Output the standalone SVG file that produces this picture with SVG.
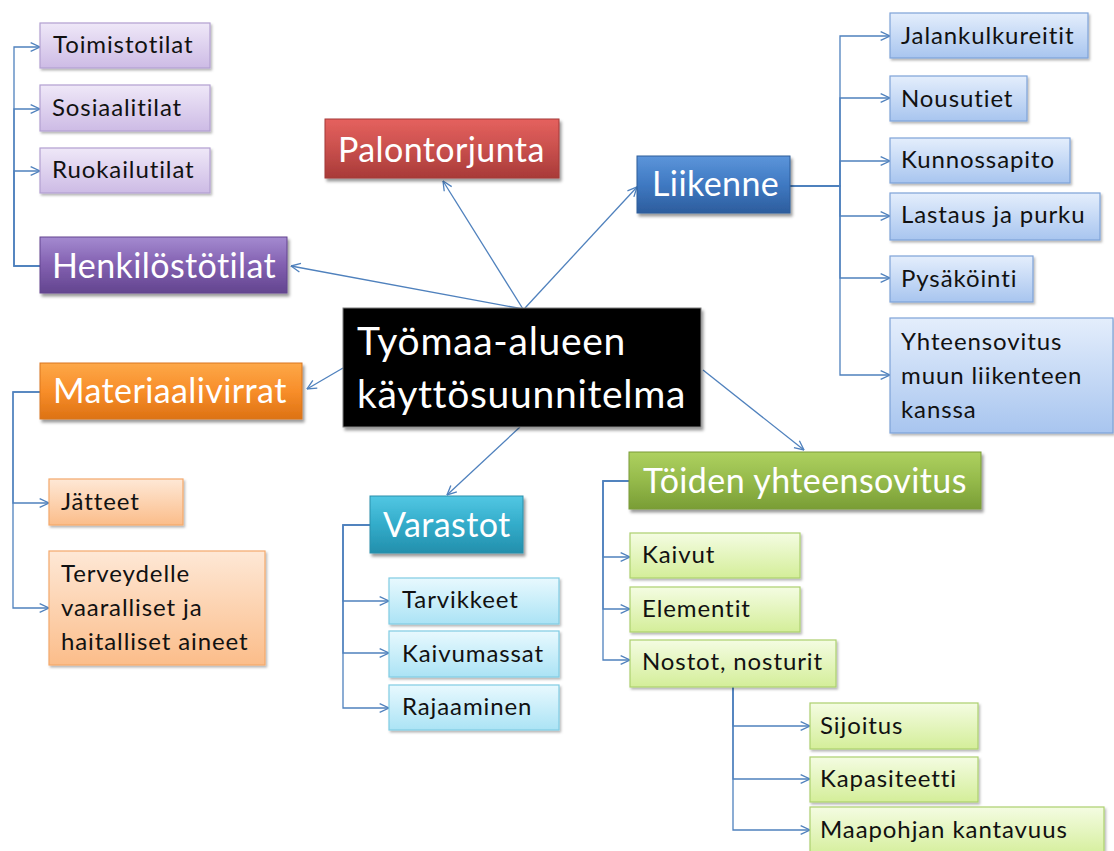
<svg xmlns="http://www.w3.org/2000/svg" width="1114" height="851" viewBox="0 0 1114 851">
  <defs>
    <linearGradient id="gPurple" x1="0" y1="0" x2="0" y2="1">
      <stop offset="0" stop-color="#a48ad0"/><stop offset="0.5" stop-color="#8260b0"/><stop offset="1" stop-color="#63458f"/>
    </linearGradient>
    <linearGradient id="gRed" x1="0" y1="0" x2="0" y2="1">
      <stop offset="0" stop-color="#e5615e"/><stop offset="0.5" stop-color="#c9504d"/><stop offset="1" stop-color="#a83a38"/>
    </linearGradient>
    <linearGradient id="gBlue" x1="0" y1="0" x2="0" y2="1">
      <stop offset="0" stop-color="#5c95da"/><stop offset="0.5" stop-color="#3f79c2"/><stop offset="1" stop-color="#2d5d9d"/>
    </linearGradient>
    <linearGradient id="gOrange" x1="0" y1="0" x2="0" y2="1">
      <stop offset="0" stop-color="#fda848"/><stop offset="0.5" stop-color="#f88e2a"/><stop offset="1" stop-color="#dd7214"/>
    </linearGradient>
    <linearGradient id="gTeal" x1="0" y1="0" x2="0" y2="1">
      <stop offset="0" stop-color="#52c7e3"/><stop offset="0.5" stop-color="#33acca"/><stop offset="1" stop-color="#238fac"/>
    </linearGradient>
    <linearGradient id="gGreen" x1="0" y1="0" x2="0" y2="1">
      <stop offset="0" stop-color="#aed160"/><stop offset="0.5" stop-color="#95ba4b"/><stop offset="1" stop-color="#799d35"/>
    </linearGradient>
    <linearGradient id="lPurple" x1="0" y1="0" x2="0" y2="1">
      <stop offset="0" stop-color="#efe8f8"/><stop offset="1" stop-color="#cdbbe5"/>
    </linearGradient>
    <linearGradient id="lBlue" x1="0" y1="0" x2="0" y2="1">
      <stop offset="0" stop-color="#e4eefc"/><stop offset="1" stop-color="#a8c5ef"/>
    </linearGradient>
    <linearGradient id="lOrange" x1="0" y1="0" x2="0" y2="1">
      <stop offset="0" stop-color="#fee8d6"/><stop offset="1" stop-color="#fbbd8a"/>
    </linearGradient>
    <linearGradient id="lTeal" x1="0" y1="0" x2="0" y2="1">
      <stop offset="0" stop-color="#e8f9fe"/><stop offset="1" stop-color="#abe3f5"/>
    </linearGradient>
    <linearGradient id="lGreen" x1="0" y1="0" x2="0" y2="1">
      <stop offset="0" stop-color="#f4fce2"/><stop offset="1" stop-color="#d4ee99"/>
    </linearGradient>
    <filter id="shadow" x="-10%" y="-20%" width="130%" height="150%">
      <feDropShadow dx="2" dy="3" stdDeviation="1.6" flood-color="#000" flood-opacity="0.4"/>
    </filter>
    <filter id="shadowSm" x="-10%" y="-20%" width="130%" height="150%">
      <feDropShadow dx="1.5" dy="2" stdDeviation="1.2" flood-color="#000" flood-opacity="0.28"/>
    </filter>
    <marker id="arrow" viewBox="0 0 10 10" refX="9.5" refY="5" markerWidth="11" markerHeight="11" markerUnits="userSpaceOnUse" orient="auto">
      <path d="M1,1 L9.5,5 L1,9" fill="none" stroke="#4f81bd" stroke-width="1.2"/>
    </marker>
  </defs>
  <style>
    .big { filter: url(#shadow); }
    .small { filter: url(#shadowSm); stroke-width: 1.2; }
    .bt { font-family: Lato, "Liberation Sans", sans-serif; font-size: 34px; letter-spacing: 0.4px; fill: #ffffff; }
    .st { font-family: Lato, "Liberation Sans", sans-serif; font-size: 24px; letter-spacing: 0.9px; fill: #111111; }
    .ct { font-family: Lato, "Liberation Sans", sans-serif; font-size: 39px; letter-spacing: 0.7px; fill: #ffffff; }
    .conn path { fill: none; stroke: #4f81bd; stroke-width: 1.3; marker-end: url(#arrow); }
  </style>

  <rect width="1114" height="851" fill="#ffffff"/>

  <!-- connectors -->
  <g id="connectors" class="conn">
    <path d="M523,309 L291,266"/>
    <path d="M523,309 L443,181"/>
    <path d="M525,308 L637,187"/>
    <path d="M343,368 L307,389"/>
    <path d="M520,427 L447,495"/>
    <path d="M703,370 L804,450"/>
    <!-- Henkilöstötilat branch -->
    <path d="M40,266 H14 V47 H40"/>
    <path d="M40,266 H14 V109 H40"/>
    <path d="M40,266 H14 V171 H40"/>
    <!-- Liikenne branch -->
    <path d="M790,186 H840 V36 H890"/>
    <path d="M790,186 H840 V98 H890"/>
    <path d="M790,186 H840 V161 H890"/>
    <path d="M790,186 H840 V216 H890"/>
    <path d="M790,186 H840 V278 H890"/>
    <path d="M790,186 H840 V375 H890"/>
    <!-- Materiaalivirrat branch -->
    <path d="M40,392 H13 V503 H49"/>
    <path d="M40,392 H13 V608 H49"/>
    <!-- Varastot branch -->
    <path d="M370,525 H343 V601 H389"/>
    <path d="M370,525 H343 V653 H389"/>
    <path d="M370,525 H343 V708 H389"/>
    <!-- Töiden yhteensovitus branch -->
    <path d="M629,481 H603 V557 H630"/>
    <path d="M629,481 H603 V609 H630"/>
    <path d="M629,481 H603 V660 H630"/>
    <!-- Nostot, nosturit branch -->
    <path d="M733,687 V726 H810"/>
    <path d="M733,687 V779 H810"/>
    <path d="M733,687 V830 H810"/>
  </g>

  <!-- central node -->
  <g id="center">
    <rect class="big" x="343" y="308" width="358" height="119" fill="#000000" stroke="#7f7f7f" stroke-width="1"/>
    <text class="ct" x="357" y="355">Työmaa-alueen</text>
    <text class="ct" x="357" y="408">käyttösuunnitelma</text>
  </g>

  <!-- Henkilöstötilat -->
  <g id="henkilostotilat">
    <rect class="big" x="40" y="237" width="247" height="56" fill="url(#gPurple)" stroke="#63458f" stroke-width="1"/>
    <text class="bt" x="52" y="278">Henkilöstötilat</text>
  </g>
  <g id="toimistotilat">
    <rect class="small" x="40" y="23" width="170" height="45" fill="url(#lPurple)" stroke="#b2a0d1"/>
    <text class="st" x="53" y="53">Toimistotilat</text>
  </g>
  <g id="sosiaalitilat">
    <rect class="small" x="40" y="85" width="170" height="46" fill="url(#lPurple)" stroke="#b2a0d1"/>
    <text class="st" x="52" y="116">Sosiaalitilat</text>
  </g>
  <g id="ruokailutilat">
    <rect class="small" x="40" y="148" width="170" height="45" fill="url(#lPurple)" stroke="#b2a0d1"/>
    <text class="st" x="52" y="178">Ruokailutilat</text>
  </g>

  <!-- Palontorjunta -->
  <g id="palontorjunta">
    <rect class="big" x="325" y="119" width="234" height="59" fill="url(#gRed)" stroke="#a33b38" stroke-width="1"/>
    <text class="bt" x="338" y="162">Palontorjunta</text>
  </g>

  <!-- Liikenne -->
  <g id="liikenne">
    <rect class="big" x="637" y="156" width="153" height="57" fill="url(#gBlue)" stroke="#2f5d9a" stroke-width="1"/>
    <text class="bt" x="652" y="196">Liikenne</text>
  </g>
  <g id="jalankulkureitit">
    <rect class="small" x="890" y="13" width="198" height="45" fill="url(#lBlue)" stroke="#7ea2d8"/>
    <text class="st" x="901" y="44">Jalankulkureitit</text>
  </g>
  <g id="nousutiet">
    <rect class="small" x="890" y="76" width="137" height="45" fill="url(#lBlue)" stroke="#7ea2d8"/>
    <text class="st" x="901" y="107">Nousutiet</text>
  </g>
  <g id="kunnossapito">
    <rect class="small" x="890" y="138" width="180" height="45" fill="url(#lBlue)" stroke="#7ea2d8"/>
    <text class="st" x="901" y="168">Kunnossapito</text>
  </g>
  <g id="lastaus">
    <rect class="small" x="890" y="193" width="210" height="47" fill="url(#lBlue)" stroke="#7ea2d8"/>
    <text class="st" x="901" y="223">Lastaus ja purku</text>
  </g>
  <g id="pysakointi">
    <rect class="small" x="890" y="256" width="143" height="46" fill="url(#lBlue)" stroke="#7ea2d8"/>
    <text class="st" x="901" y="287">Pysäköinti</text>
  </g>
  <g id="yhteensovitus">
    <rect class="small" x="890" y="318" width="223" height="115" fill="url(#lBlue)" stroke="#7ea2d8"/>
    <text class="st" x="901" y="350">Yhteensovitus</text>
    <text class="st" x="901" y="384">muun liikenteen</text>
    <text class="st" x="901" y="418">kanssa</text>
  </g>

  <!-- Materiaalivirrat -->
  <g id="materiaalivirrat">
    <rect class="big" x="40" y="363" width="262" height="56" fill="url(#gOrange)" stroke="#d9761f" stroke-width="1"/>
    <text class="bt" x="53" y="403">Materiaalivirrat</text>
  </g>
  <g id="jatteet">
    <rect class="small" x="49" y="479" width="134" height="46" fill="url(#lOrange)" stroke="#f4a86c"/>
    <text class="st" x="61" y="510">Jätteet</text>
  </g>
  <g id="terveydelle">
    <rect class="small" x="49" y="551" width="216" height="114" fill="url(#lOrange)" stroke="#f4a86c"/>
    <text class="st" x="61" y="582">Terveydelle</text>
    <text class="st" x="61" y="616">vaaralliset ja</text>
    <text class="st" x="61" y="650">haitalliset aineet</text>
  </g>

  <!-- Varastot -->
  <g id="varastot">
    <rect class="big" x="370" y="496" width="153" height="57" fill="url(#gTeal)" stroke="#2a8fab" stroke-width="1"/>
    <text class="bt" x="383" y="537">Varastot</text>
  </g>
  <g id="tarvikkeet">
    <rect class="small" x="389" y="578" width="170" height="46" fill="url(#lTeal)" stroke="#80cce3"/>
    <text class="st" x="402" y="608">Tarvikkeet</text>
  </g>
  <g id="kaivumassat">
    <rect class="small" x="389" y="631" width="170" height="46" fill="url(#lTeal)" stroke="#80cce3"/>
    <text class="st" x="402" y="662">Kaivumassat</text>
  </g>
  <g id="rajaaminen">
    <rect class="small" x="389" y="685" width="170" height="45" fill="url(#lTeal)" stroke="#80cce3"/>
    <text class="st" x="402" y="715">Rajaaminen</text>
  </g>

  <!-- Töiden yhteensovitus -->
  <g id="toiden-yhteensovitus">
    <rect class="big" x="629" y="452" width="352" height="57" fill="url(#gGreen)" stroke="#7a9c38" stroke-width="1"/>
    <text class="bt" x="643" y="493">Töiden yhteensovitus</text>
  </g>
  <g id="kaivut">
    <rect class="small" x="630" y="533" width="170" height="45" fill="url(#lGreen)" stroke="#acd06e"/>
    <text class="st" x="642" y="563">Kaivut</text>
  </g>
  <g id="elementit">
    <rect class="small" x="630" y="587" width="170" height="45" fill="url(#lGreen)" stroke="#acd06e"/>
    <text class="st" x="642" y="617">Elementit</text>
  </g>
  <g id="nostot">
    <rect class="small" x="630" y="640" width="206" height="47" fill="url(#lGreen)" stroke="#acd06e"/>
    <text class="st" x="642" y="670">Nostot, nosturit</text>
  </g>
  <g id="sijoitus">
    <rect class="small" x="810" y="703" width="168" height="46" fill="url(#lGreen)" stroke="#acd06e"/>
    <text class="st" x="820" y="734">Sijoitus</text>
  </g>
  <g id="kapasiteetti">
    <rect class="small" x="810" y="757" width="168" height="45" fill="url(#lGreen)" stroke="#acd06e"/>
    <text class="st" x="820" y="787">Kapasiteetti</text>
  </g>
  <g id="maapohjan">
    <rect class="small" x="810" y="807" width="294" height="50" fill="url(#lGreen)" stroke="#acd06e"/>
    <text class="st" x="820" y="838">Maapohjan kantavuus</text>
  </g>
</svg>
